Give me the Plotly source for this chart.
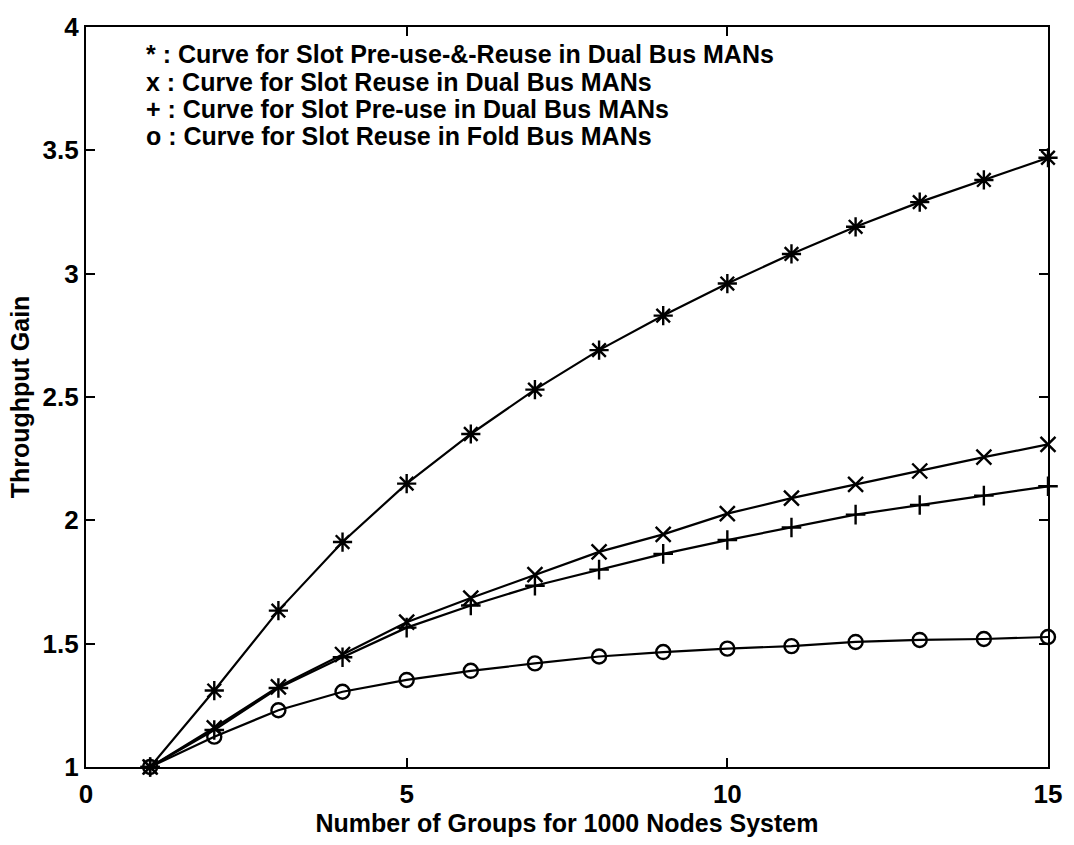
import plotly.graph_objects as go

groups = list(range(1, 16))
preuse_reuse_dual = [1.0, 1.31, 1.634, 1.912, 2.149, 2.35, 2.53, 2.69, 2.83, 2.96, 3.08, 3.19, 3.29, 3.38, 3.47]
reuse_dual = [1.0, 1.159, 1.325, 1.456, 1.587, 1.685, 1.78, 1.872, 1.943, 2.027, 2.09, 2.146, 2.20, 2.256, 2.308]
preuse_dual = [1.0, 1.15, 1.32, 1.445, 1.565, 1.655, 1.735, 1.80, 1.864, 1.92, 1.971, 2.023, 2.062, 2.10, 2.138]
reuse_fold = [1.0, 1.123, 1.23, 1.305, 1.353, 1.39, 1.42, 1.448, 1.466, 1.48, 1.49, 1.507, 1.515, 1.519, 1.527]

legend_lines = [
    "* : Curve for Slot Pre-use-&-Reuse in Dual Bus MANs",
    "x : Curve for Slot Reuse in Dual Bus MANs",
    "+ : Curve for Slot Pre-use in Dual Bus MANs",
    "o : Curve for Slot Reuse in Fold Bus MANs",
]
x_ticks = [0, 5, 10, 15]
y_ticks = [1, 1.5, 2, 2.5, 3, 3.5, 4]
y_tick_text = ["1", "1.5", "2", "2.5", "3", "3.5", "4"]

FONT = "Liberation Sans, Arial, sans-serif"

fig = go.Figure()
series = [
    (preuse_reuse_dual, "asterisk-open", 16),
    (reuse_dual, "x-thin-open", 15),
    (preuse_dual, "cross-thin-open", 14),
    (reuse_fold, "circle-open", 14),
]
for ys, sym, sz in series:
    fig.add_trace(go.Scatter(
        x=groups, y=ys, mode="lines+markers",
        line=dict(color="black", width=2.2),
        marker=dict(symbol=sym, size=sz, color="black", line=dict(color="black", width=2.4)),
        showlegend=False, cliponaxis=False,
    ))

for i, t in enumerate(legend_lines):
    fig.add_annotation(
        x=0.9, y=3.889 - i * 0.11, xref="x", yref="y",
        text="<b>" + t + "</b>", showarrow=False, xanchor="left", yanchor="middle",
        font=dict(family=FONT, size=25, color="black"),
    )

fig.update_layout(
    width=1074, height=845,
    margin=dict(l=86, r=20, t=19, b=69),
    paper_bgcolor="white", plot_bgcolor="white",
    font=dict(family=FONT, size=25, color="black", weight="bold"),
)
fig.update_xaxes(
    range=[0, 15], tickvals=x_ticks, ticks="inside", ticklen=9, tickwidth=1.5,
    tickcolor="black", showline=True, linecolor="black", linewidth=2.2, mirror="ticks",
    showgrid=False, zeroline=False, ticklabelstandoff=3,
    tickfont=dict(family=FONT, size=26, weight="bold"),
    title=dict(text="<b>Number of Groups for 1000 Nodes System</b>", font=dict(family=FONT, size=25), standoff=6),
)
fig.update_yaxes(
    range=[1, 4], tickvals=y_ticks, ticktext=y_tick_text, ticks="inside", ticklen=9, tickwidth=1.5,
    tickcolor="black", showline=True, linecolor="black", linewidth=2.2, mirror="ticks",
    showgrid=False, zeroline=False,
    tickfont=dict(family=FONT, size=26, weight="bold"),
    title=dict(text="<b>Throughput Gain</b>", font=dict(family=FONT, size=25), standoff=6),
)

fig.write_html("out.html", config={"displayModeBar": False},
               post_script="document.body.style.margin='0';")
